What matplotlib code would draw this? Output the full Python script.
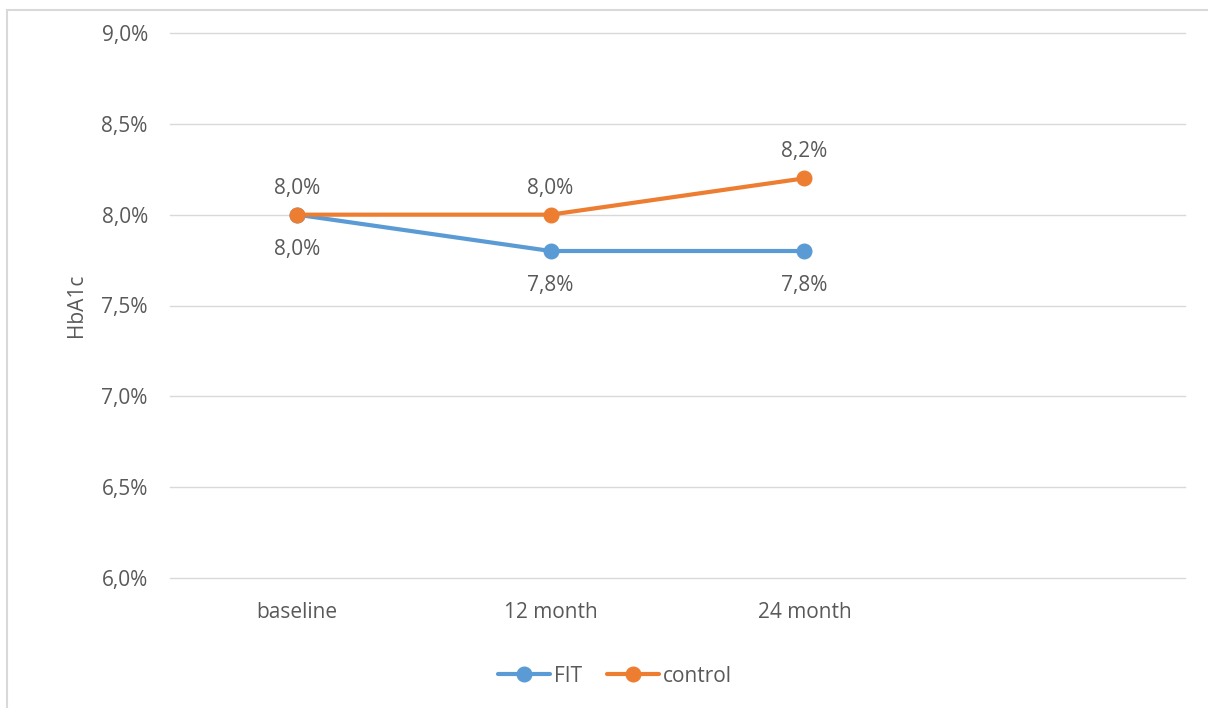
import matplotlib
matplotlib.use("Agg")
import matplotlib.pyplot as plt
from matplotlib.patches import Rectangle

categories = ["baseline", "12 month", "24 month"]
fit = [8.0, 7.8, 7.8]
control = [8.0, 8.0, 8.2]
yticks = [6.0, 6.5, 7.0, 7.5, 8.0, 8.5, 9.0]

plt.rcParams['font.family'] = ['Open Sans', 'DejaVu Sans']
TXT = '#595959'
FS = 15

fig = plt.figure(figsize=(12.08, 7.08), dpi=100)
fig.patches.append(Rectangle((7/1208, -0.01), 1.02, 1 - 10/708 + 0.01, transform=fig.transFigure,
                             fill=False, edgecolor='#d9d9d9', linewidth=1.5))
ax = fig.add_axes([170/1208, 1 - 578/708, (1185 - 170)/1208, (578 - 33)/708])

x = list(range(len(categories)))
ax.plot(x, fit, color='#5B9BD5', lw=3, marker='o', markersize=10.5, label='FIT', zorder=3,
        solid_capstyle='round')
ax.plot(x, control, color='#ED7D31', lw=3, marker='o', markersize=10.5, label='control', zorder=4,
        solid_capstyle='round')

for xi, v in zip(x, fit):
    ax.annotate(f"{v:.1f}%".replace('.', ','), (xi, v), xytext=(0, -25), textcoords='offset points',
                ha='center', va='center', fontsize=FS, color=TXT)
for xi, v in zip(x, control):
    ax.annotate(f"{v:.1f}%".replace('.', ','), (xi, v), xytext=(0, 19), textcoords='offset points',
                ha='center', va='center', fontsize=FS, color=TXT)

ax.set_xlim(-0.5, 3.5)
ax.set_ylim(6.0, 9.0)
ax.set_yticks(yticks)
ax.set_yticklabels([f"{t:.1f}%".replace('.', ',') for t in yticks])
ax.set_xticks(x)
ax.set_xticklabels(categories)
ax.tick_params(axis='both', length=0, labelsize=FS, labelcolor=TXT)
ax.tick_params(axis='y', pad=16)
ax.tick_params(axis='x', pad=17)
ax.grid(axis='y', color='#d9d9d9', lw=1)
for gl in ax.get_ygridlines():
    gl.set_clip_on(False)
ax.set_axisbelow(True)
for s in ax.spines.values():
    s.set_visible(False)

ax.set_ylabel("HbA1c", fontsize=FS, color=TXT, labelpad=10)

fig.legend(loc='center', bbox_to_anchor=(615/1208, 1 - 676/708), ncol=2, frameon=False,
           fontsize=FS, labelcolor=TXT, handlelength=2.5, columnspacing=1.2, handletextpad=0.2)

fig.savefig("out.png", dpi=100)
